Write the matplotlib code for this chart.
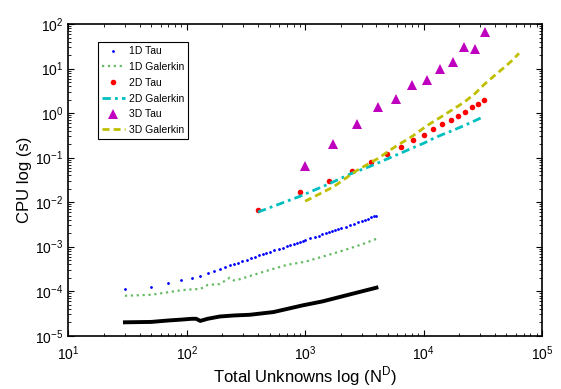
"""
CPU time vs total unknowns, tau vs galerkin, 1D/2D/3D
"""
import matplotlib
matplotlib.use("Agg")
import matplotlib.pyplot as plt

plt.rcParams['font.family'] = ['Liberation Sans', 'DejaVu Sans']
plt.rcParams['mathtext.fontset'] = 'custom'
plt.rcParams['mathtext.rm'] = 'Liberation Sans'

# 1D tau (dots)
n_1d_tau = [30, 50, 70, 90, 110, 130, 150, 170, 190, 210, 230, 250, 270, 290,
            320, 350, 380, 410, 440, 470, 500, 550, 600, 650, 700, 750, 800,
            850, 900, 950, 1000, 1100, 1200, 1300, 1400, 1500, 1600, 1700,
            1800, 1900, 2000, 2200, 2400, 2600, 2800, 3000, 3200, 3400, 3600,
            3800, 4000]
cpu_1d_tau = [1.10e-4, 1.26e-4, 1.55e-4, 1.74e-4, 1.95e-4, 2.19e-4, 2.5e-4,
              2.8e-4, 3.2e-4, 3.5e-4, 3.8e-4, 4.1e-4, 4.4e-4, 4.7e-4,
              5.1e-4, 5.6e-4, 6.0e-4, 6.4e-4, 6.8e-4, 7.2e-4, 7.6e-4, 8.3e-4,
              8.9e-4, 9.5e-4, 1.02e-3, 1.09e-3, 1.15e-3, 1.22e-3, 1.29e-3,
              1.35e-3, 1.41e-3, 1.55e-3, 1.66e-3, 1.78e-3, 1.90e-3, 2.0e-3,
              2.13e-3, 2.24e-3, 2.35e-3, 2.45e-3, 2.57e-3, 2.82e-3, 3.08e-3,
              3.3e-3, 3.55e-3, 3.8e-3, 4.07e-3, 4.27e-3, 4.57e-3, 4.8e-3, 5.0e-3]

# 1D galerkin
n_1d_gal = [30, 50, 70, 90, 110, 130, 150, 190, 230, 250, 280, 350, 500, 700,
            1000, 1500, 2000, 3000, 4000]
cpu_1d_gal = [7.9e-5, 8.3e-5, 9.5e-5, 1.05e-4, 1.10e-4, 1.12e-4, 1.38e-4,
              1.45e-4, 2.0e-4, 1.74e-4, 1.86e-4, 2.24e-4, 3.0e-4, 3.9e-4,
              4.6e-4, 6.3e-4, 7.9e-4, 1.12e-3, 1.5e-3]

# 1D, black curve (no legend entry)
n_1d_other = [30, 50, 70, 90, 110, 120, 130, 150, 190, 250, 340, 540, 950,
              1400, 2400, 4000]
cpu_1d_other = [2.0e-5, 2.04e-5, 2.2e-5, 2.3e-5, 2.4e-5, 2.4e-5, 2.15e-5,
                2.4e-5, 2.7e-5, 2.85e-5, 2.95e-5, 3.4e-5, 4.8e-5, 5.9e-5,
                8.5e-5, 1.2e-4]

# 2D: N = n^2
n_2d = [400, 900, 1600, 2500, 3600, 4900, 6400, 8100, 10000, 12100, 14400,
        16900, 19600, 22500, 25600, 28900, 32400]
cpu_2d_tau = [0.0068, 0.0167, 0.030, 0.051, 0.081, 0.123, 0.178, 0.245, 0.33,
              0.44, 0.57, 0.71, 0.88, 1.08, 1.35, 1.6, 1.94]
cpu_2d_gal = [0.006, 0.0135, 0.026, 0.045, 0.065, 0.093, 0.126, 0.166, 0.21,
              0.27, 0.33, 0.39, 0.46, 0.54, 0.63, 0.73, 0.85]

# 3D: N = n^3
n_3d_tau = [1000, 1728, 2744, 4096, 5832, 8000, 10648, 13824, 17576, 21952,
            27000, 32768]
cpu_3d_tau = [0.066, 0.2, 0.56, 1.37, 2.1, 4.3, 5.5, 10, 14, 30, 28, 66]
n_3d_gal = [1000, 1728, 2744, 4096, 5832, 8000, 10648, 13824, 17576, 21952,
            27000, 32768, 39304, 46656, 54872, 64000]
cpu_3d_gal = [0.0105, 0.022, 0.052, 0.095, 0.18, 0.30, 0.52, 0.80, 1.2, 1.75,
              2.7, 4.5, 6.8, 10, 14.5, 22]


def draw_plot():
    fig = plt.figure(figsize=(5.61, 3.89), dpi=100)
    ax = fig.add_axes([0.122, 0.137, 0.844, 0.801])

    ax.loglog(n_1d_tau, cpu_1d_tau, '.', color='#0000ff', ms=2, label='1D Tau')
    ax.loglog(n_1d_gal, cpu_1d_gal, ':', color='#66bb66', lw=1.6, label='1D Galerkin')
    ax.loglog(n_1d_other, cpu_1d_other, '-', color='black', lw=2.8)
    ax.loglog(n_2d, cpu_2d_tau, 'o', color='#ff0000', ms=4, mew=0, label='2D Tau')
    ax.loglog(n_2d, cpu_2d_gal, '-.', color='#00bfbf', lw=2, dashes=(3, 1.5, 1, 1.5),
              label='2D Galerkin')
    ax.loglog(n_3d_tau, cpu_3d_tau, '^', color='#bf00bf', ms=6.5, mew=0, label='3D Tau')
    ax.loglog(n_3d_gal, cpu_3d_gal, '--', color='#bfbf00', lw=2, dashes=(2.5, 1.5),
              label='3D Galerkin')

    ax.set_xlim(10, 1e5)
    ax.set_ylim(1e-5, 1e2)
    ax.tick_params(which='both', direction='in', top=True, right=True, labelsize=10)
    ax.tick_params(which='major', length=4)
    ax.tick_params(which='minor', length=2)
    ax.tick_params(axis='x', which='major', pad=6)
    for s in ax.spines.values():
        s.set_linewidth(1.2)

    ax.set_xlabel(r'Total Unknowns log (N$^{\mathrm{D}}$)', fontsize=12, labelpad=1)
    ax.set_ylabel('CPU log (s)', fontsize=12, labelpad=2)

    leg = ax.legend(loc='upper left', bbox_to_anchor=(0.062, 0.942),
                    borderaxespad=0, fontsize=7.5, numpoints=1,
                    fancybox=False, framealpha=1, edgecolor='black',
                    handlelength=2.2, labelspacing=0.55, handletextpad=0.4)
    leg.get_frame().set_linewidth(0.8)

    fig.savefig("out.png", dpi=100)


def main():
    draw_plot()


if __name__ == "__main__":
    main()
